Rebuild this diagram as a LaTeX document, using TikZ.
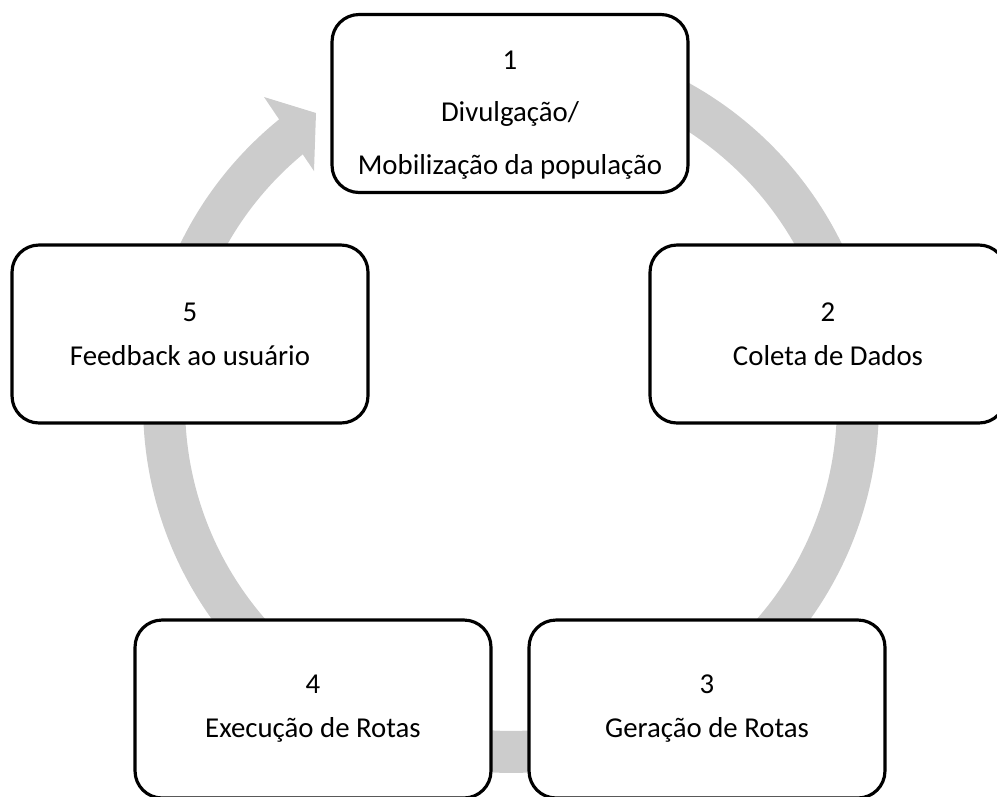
\documentclass[tikz,border=0pt]{standalone}
\usepackage{fontspec}
\setmainfont{Carlito}
\definecolor{ringgray}{RGB}{204,204,204}
\tikzset{
    stepbox/.style={draw=black, line width=1.8pt, fill=white, rounded corners=0.54cm,
        minimum width=7.12cm, minimum height=3.56cm, inner sep=0pt},
    steptext/.style={align=center, inner sep=0pt, font=\fontsize{16.4}{25}\selectfont},
    ring/.style={draw=ringgray, line width=0.84cm}
}
\begin{document}
\begin{tikzpicture}[x=0.02cm, y=0.02cm]
                \useasboundingbox (0, 0) rectangle (997, -796);
                \clip (0, 0) rectangle (997, -796);

                \coordinate (ctr) at (511, -405);
                \draw[ring] ([shift={(128.5:6.94cm)}]ctr) arc[start angle=128.5, end angle=440, radius=6.94cm];
                \coordinate (barbout) at (264, -97);
                \coordinate (tip) at (316, -113);
                \coordinate (barbin) at (314, -171);
                \fill[ringgray] (barbout) -- (tip) -- (barbin) -- cycle;

                \node[stepbox] (b1) at (510, -103.5) {};
                \node[stepbox] (b2) at (828, -334) {};
                \node[stepbox] (b3) at (707, -709) {};
                \node[stepbox] (b4) at (313, -709) {};
                \node[stepbox] (b5) at (190, -334) {};

                \node[steptext, font=\fontsize{16.4}{29.8}\selectfont] (t1) at ([yshift=-0.23cm]b1.center) {1\\Divulgação/\\Mobilização da população};
                \node[steptext] (t2) at (b2.center) {2\\Coleta de Dados};
                \node[steptext] (t3) at (b3.center) {3\\Geração de Rotas};
                \node[steptext] (t4) at (b4.center) {4\\Execução de Rotas};
                \node[steptext] (t5) at (b5.center) {5\\Feedback ao usuário};
\end{tikzpicture}
\end{document}
